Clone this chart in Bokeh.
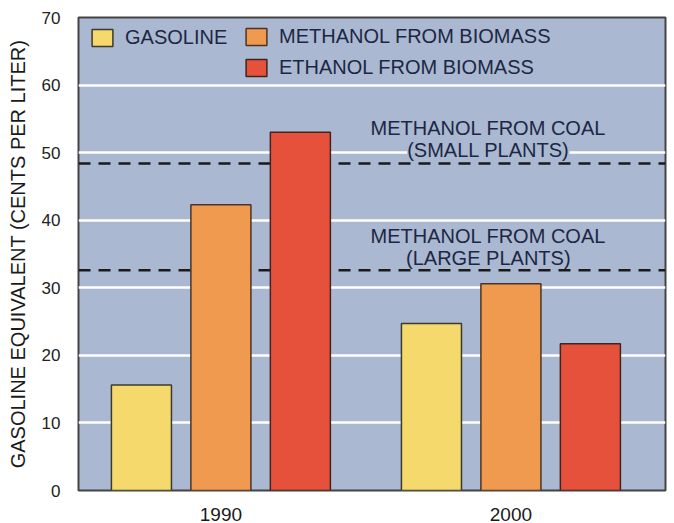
from bokeh.plotting import figure
from bokeh.models import (Range1d, FixedTicker, Span, Label, Legend, LegendItem,
                          ColumnDataSource)
from bokeh.transform import dodge
from bokeh.embed import file_html
from bokeh.resources import INLINE

# ---- data ----
years = ["1990", "2000"]
gasoline = [15.6, 24.7]
methanol_biomass = [42.3, 30.6]
ethanol_biomass = [53.0, 21.7]
coal_small_plants = 48.4
coal_large_plants = 32.6
y_ticks = [0, 10, 20, 30, 40, 50, 60, 70]

idx = list(range(len(years)))
src = ColumnDataSource(dict(idx=idx, gasoline=gasoline,
                            methanol=methanol_biomass, ethanol=ethanol_biomass))

FONT = "Liberation Sans"
TXT = "#1d2744"
BG = "#aab9d1"

p = figure(width=674, height=523, x_range=Range1d(-0.491, 1.533),
           y_range=Range1d(0, 70), output_backend="svg", toolbar_location=None,
           min_border_left=78, min_border_right=9, min_border_top=17,
           min_border_bottom=33, background_fill_color=BG,
           border_fill_color="white")
p.outline_line_color = "#444444"
p.outline_line_width = 2

# grid
p.xgrid.grid_line_color = None
p.ygrid.ticker = FixedTicker(ticks=y_ticks[1:-1])
p.ygrid.grid_line_color = "white"
p.ygrid.grid_line_width = 2.5

# dashed reference lines (under the bars)
for loc in (coal_small_plants, coal_large_plants):
    p.add_layout(Span(location=loc, dimension="width", line_color="#1a1a1a",
                      line_width=2.5, line_dash="12 8", level="underlay"))

pitch, bw = 0.274, 0.207
r_gas = p.vbar(x=dodge("idx", -pitch, range=p.x_range), top="gasoline", width=bw,
               source=src, fill_color="#f6d96c", line_color="#3b3a2c", line_width=1.5)
r_met = p.vbar(x=dodge("idx", 0, range=p.x_range), top="methanol", width=bw,
               source=src, fill_color="#f09a50", line_color="#4a3426", line_width=1.5)
r_eth = p.vbar(x=dodge("idx", pitch, range=p.x_range), top="ethanol", width=bw,
               source=src, fill_color="#e6513b", line_color="#3f2420", line_width=1.5)

# axes
p.yaxis.ticker = FixedTicker(ticks=y_ticks)
p.yaxis.major_tick_line_color = None
p.yaxis.minor_tick_line_color = None
p.yaxis.axis_line_color = None
p.yaxis.major_label_text_font = FONT
p.yaxis.major_label_text_font_size = "17px"
p.yaxis.major_label_text_color = "#222222"
p.yaxis.major_label_standoff = 12
p.yaxis.axis_label = "GASOLINE EQUIVALENT (CENTS PER LITER)"
p.yaxis.axis_label_text_font = FONT
p.yaxis.axis_label_text_font_style = "normal"
p.yaxis.axis_label_text_font_size = "20px"
p.yaxis.axis_label_text_color = "#1a1a1a"
p.yaxis.axis_label_standoff = 10

p.xaxis.ticker = FixedTicker(ticks=idx)
p.xaxis.major_label_overrides = {i: y for i, y in zip(idx, years)}
p.xaxis.major_tick_line_color = None
p.xaxis.minor_tick_line_color = None
p.xaxis.axis_line_color = None
p.xaxis.major_label_text_font = FONT
p.xaxis.major_label_text_font_size = "19px"
p.xaxis.major_label_text_color = "#1a1a1a"
p.xaxis.major_label_standoff = 11

# legends
def make_legend(items, loc):
    lg = Legend(items=items, location=loc, orientation="vertical",
                padding=0, margin=0, spacing=8, glyph_width=26, glyph_height=21,
                label_height=21, label_standoff=10, border_line_color=None,
                background_fill_alpha=0, label_text_font=FONT,
                label_text_font_size="20px", label_text_color=TXT)
    return lg

p.add_layout(make_legend([LegendItem(label="GASOLINE", renderers=[r_gas])], (11, 441)))
p.add_layout(make_legend([LegendItem(label="METHANOL FROM BIOMASS", renderers=[r_met]),
                          LegendItem(label="ETHANOL FROM BIOMASS", renderers=[r_eth])],
                         (165, 411)))

# annotations for dashed lines
ann_x = 0.922
def ann(text, y, off, bg=False):
    kw = dict(background_fill_color=BG) if bg else {}
    p.add_layout(Label(x=ann_x, y=y, y_offset=off, text=text, text_align="center",
                       text_baseline="middle", text_font=FONT,
                       text_font_size="20px", text_color=TXT, **kw))

ann("METHANOL FROM COAL", coal_small_plants, 35)
ann("(SMALL PLANTS)", coal_small_plants, 13, bg=True)
ann("METHANOL FROM COAL", coal_large_plants, 34)
ann("(LARGE PLANTS)", coal_large_plants, 12)

open("out.html", "w").write(file_html(p, INLINE))
